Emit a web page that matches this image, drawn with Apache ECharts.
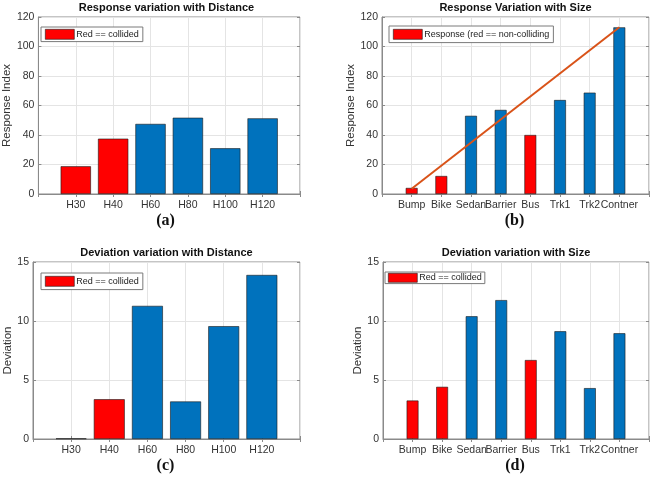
<!DOCTYPE html>
<html>
<head>
<meta charset="utf-8">
<script src="https://cdn.jsdelivr.net/npm/echarts@6/dist/echarts.min.js"></script>
<style>
html, body { margin: 0; padding: 0; background: #fff; }
#chart { width: 655px; height: 482px; }
</style>
</head>
<body>
<div id="chart"></div>
<script>
"use strict";
// categories / tick labels
var distLabels = ['H30', 'H40', 'H60', 'H80', 'H100', 'H120'];
var sizeLabels = ['Bump', 'Bike', 'Sedan', 'Barrier', 'Bus', 'Trk1', 'Trk2', 'Contner'];
// values
var respDist = [18.8, 37.5, 47.5, 51.7, 31, 51.3];
var respSize = [4.1, 12.2, 53, 57, 40, 63.7, 68.7, 113];
var devDist = [0.05, 3.37, 11.28, 3.18, 9.56, 13.9];
var devSize = [3.26, 4.42, 10.4, 11.77, 6.69, 9.13, 4.31, 8.96];
// 1 = drawn red
var redDist = [1, 1, 0, 0, 0, 0];
var redSize = [1, 1, 0, 0, 1, 0, 0, 0];
// orange line in (b): first and last point
var trendSize = [3.6, 113];
// y axis ranges [min, max, step]
var respTicks = [0, 120, 20];
var devTicks = [0, 15, 5];

var BLUE = '#0072BD', RED = '#FF0000', BOX = '#8a8a8a', GRID = '#e4e4e4';
var FONT = 'Liberation Sans, Arial, sans-serif';

var option = {
    animation: false,
    backgroundColor: '#fff',
    grid: [], xAxis: [], yAxis: [], series: [], legend: [], graphic: []
};

//one panel of the figure
function addPanel(p) {
    var i = option.grid.length;
    option.grid.push({
        left: p.box[0], top: p.box[1], width: p.box[2], height: p.box[3],
        show: true, borderColor: BOX, borderWidth: 1, backgroundColor: '#fff'
    });
    var cats = [''].concat(p.labels, ['']);
    option.xAxis.push({
        gridIndex: i, type: 'category', data: cats, boundaryGap: false,
        axisLine: { lineStyle: { color: BOX } },
        axisTick: { inside: true, length: 3, interval: 0, lineStyle: { color: BOX } },
        axisLabel: { interval: 0, color: '#333', fontSize: 10.5, fontFamily: FONT, margin: 6, hideOverlap: false },
        splitLine: { show: true, interval: 0, lineStyle: { color: GRID } }
    }, {
        gridIndex: i, type: 'category', data: cats, boundaryGap: false, position: 'top',
        axisLine: { show: false }, axisLabel: { show: false }, splitLine: { show: false },
        axisTick: { inside: true, length: 3, interval: 0, lineStyle: { color: BOX } }
    });
    option.yAxis.push({
        gridIndex: i, type: 'value', min: p.ticks[0], max: p.ticks[1], interval: p.ticks[2],
        name: p.yName, nameLocation: 'middle', nameGap: p.nameGap,
        nameTextStyle: { color: '#333', fontSize: 11.5, fontFamily: FONT },
        axisLine: { show: true, lineStyle: { color: BOX } },
        axisTick: { show: true, inside: true, length: 3, lineStyle: { color: BOX } },
        axisLabel: { color: '#333', fontSize: 10.5, fontFamily: FONT, margin: 4 },
        splitLine: { show: true, lineStyle: { color: GRID } }
    }, {
        gridIndex: i, type: 'value', min: p.ticks[0], max: p.ticks[1], interval: p.ticks[2],
        position: 'right', axisLine: { show: false }, axisLabel: { show: false },
        splitLine: { show: false },
        axisTick: { show: true, inside: true, length: 3, lineStyle: { color: BOX } }
    });
    var flags = ['-'].concat(p.flags, ['-']);
    option.series.push({
        type: 'bar', name: p.legend, xAxisIndex: 2 * i, yAxisIndex: 2 * i,
        data: ['-'].concat(p.values, ['-']),
        barWidth: p.barWidth,
        itemStyle: {
            color: function (d) { return flags[d.dataIndex] === 1 ? RED : BLUE; },
            borderColor: '#1a1a1a', borderWidth: 0.6
        }
    });
    option.legend.push({
        left: p.legendPos[0], top: p.legendPos[1], padding: p.legendPad,
        orient: 'vertical', selectedMode: false,
        backgroundColor: '#fff', borderColor: '#7a7a7a', borderWidth: 1, borderRadius: 0,
        itemWidth: 29, itemHeight: p.legendItemH, icon: 'rect',
        textStyle: { fontSize: 9, color: '#222', fontFamily: FONT, padding: [0, 0, 0, -3] },
        data: [{ name: p.legend, itemStyle: { color: RED, borderColor: '#1a1a1a', borderWidth: 0.6 } }]
    });
    var cx = p.box[0] + p.box[2] / 2;
    option.graphic.push({
        type: 'text', x: cx, y: p.box[1] - 9,
        style: { text: p.title, fontSize: 11, fontWeight: 'bold', fontFamily: FONT, fill: '#111', align: 'center', verticalAlign: 'middle' }
    }, {
        type: 'text', x: cx - 1, y: p.box[1] + p.box[3] + 27,
        style: { text: p.caption, fontSize: 16, fontWeight: 'bold', fontFamily: 'Liberation Serif, Times New Roman, serif', fill: '#111', align: 'center', verticalAlign: 'middle' }
    });
    return i;
}

addPanel({
    box: [33, 17, 267, 177], title: 'Response variation with Distance', caption: '(a)',
    labels: distLabels, values: respDist, flags: redDist, ticks: respTicks,
    yName: 'Response Index', nameGap: 23, barWidth: '81%',
    legend: 'Red == collided', legendPos: [41, 27], legendPad: [2, 4], legendItemH: 10
});
var iB = addPanel({
    box: [382, 17, 267, 177], title: 'Response Variation with Size', caption: '(b)',
    labels: sizeLabels, values: respSize, flags: redSize, ticks: respTicks,
    yName: 'Response Index', nameGap: 23, barWidth: '40%',
    legend: 'Response (red == non-colliding', legendPos: [389, 26], legendPad: [3, 4], legendItemH: 10
});
addPanel({
    box: [33, 262, 267, 177], title: 'Deviation variation with Distance', caption: '(c)',
    labels: distLabels, values: devDist, flags: redDist, ticks: devTicks,
    yName: 'Deviation', nameGap: 16, barWidth: '81%',
    legend: 'Red == collided', legendPos: [41, 273], legendPad: [3, 4], legendItemH: 10
});
addPanel({
    box: [383, 262, 266, 177], title: 'Deviation variation with Size', caption: '(d)',
    labels: sizeLabels, values: devSize, flags: redSize, ticks: devTicks,
    yName: 'Deviation', nameGap: 16, barWidth: '40%',
    legend: 'Red == collided', legendPos: [385, 272], legendPad: [1, 3], legendItemH: 9
});

// orange line across (b), from first to last category
var trendData = ['-'].concat(sizeLabels.map(function () { return null; }), ['-']);
trendData[1] = trendSize[0];
trendData[sizeLabels.length] = trendSize[1];
option.series.push({
    type: 'line', name: 'trend', xAxisIndex: 2 * iB, yAxisIndex: 2 * iB,
    data: trendData, connectNulls: true, showSymbol: false, symbol: 'none',
    lineStyle: { color: '#D95319', width: 2 }, z: 5
});

var myChart = echarts.init(document.getElementById('chart'), null, { renderer: 'canvas' });
myChart.setOption(option);
window.onresize = function () {
    myChart.resize();
};
</script>
</body>
</html>
